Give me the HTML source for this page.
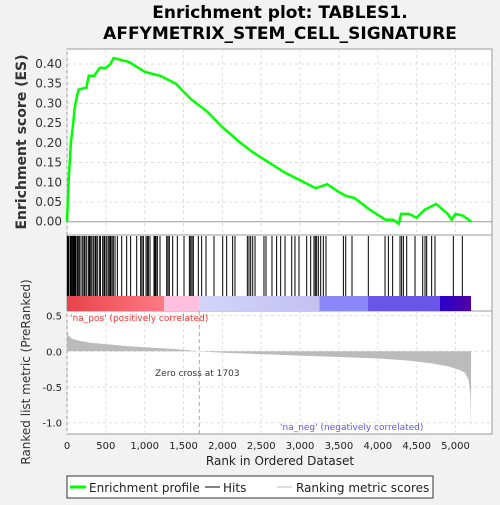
<!DOCTYPE html>
<html><head><meta charset="utf-8"><style>
body{margin:0;background:#f2f2f2;font-family:"Liberation Sans","DejaVu Sans",sans-serif}
svg text{font-family:"DejaVu Sans","Liberation Sans",sans-serif}
</style></head><body>
<svg id="c" width="500" height="500" xmlns="http://www.w3.org/2000/svg">
<text x="280" y="18" text-anchor="middle" font-size="17" font-weight="bold">Enrichment plot: TABLES1.</text>
<text x="280" y="39" text-anchor="middle" font-size="17" font-weight="bold">AFFYMETRIX_STEM_CELL_SIGNATURE</text>
<rect x="67" y="49" width="425" height="186" fill="#fff" stroke="#999"/>
<rect x="67" y="235" width="425" height="76" fill="#fff" stroke="#999"/>
<rect x="67" y="311" width="425" height="123" fill="#fff" stroke="#999"/>
<g id="grid"></g><g id="bar"></g><g id="hits"></g><g id="metric"></g><g id="es"></g><g id="axes"></g>
<text transform="translate(26,142) rotate(-90)" text-anchor="middle" font-size="14" font-weight="bold" fill="#333">Enrichment score (ES)</text>
<text transform="translate(30,372) rotate(-90)" text-anchor="middle" font-size="12" fill="#333">Ranked list metric (PreRanked)</text>
<text x="280" y="465" text-anchor="middle" font-size="12" fill="#222">Rank in Ordered Dataset</text>
<text x="70" y="321" font-size="9" fill="#f33">'na_pos' (positively correlated)</text>
<text x="280" y="430" font-size="9" fill="#55f">'na_neg' (negatively correlated)</text>
<text x="155" y="376" font-size="9" fill="#333">Zero cross at 1703</text>
<rect x="67" y="476" width="366" height="22" fill="#fff" stroke="#333"/>
<line x1="70" y1="487" x2="86" y2="487" stroke="#0f0" stroke-width="3"/>
<text x="89" y="492" font-size="12" fill="#222">Enrichment profile</text>
<line x1="205" y1="487" x2="220" y2="487" stroke="#000"/>
<text x="223" y="492" font-size="12" fill="#222">Hits</text>
<line x1="277" y1="487" x2="292" y2="487" stroke="#bbb"/>
<text x="296" y="492" font-size="12" fill="#222">Ranking metric scores</text>
</svg>
<script>
const esRanks=[0,20,50,80,100,130,150,250,280,350,420,500,560,600,700,800,1000,1200,1400,1600,1800,2000,2200,2400,2600,2800,3000,3200,3350,3500,3600,3700,3900,4100,4200,4270,4300,4400,4500,4600,4700,4750,4900,4950,5000,5100,5200];
const esValues=[0,0.1,0.2,0.25,0.29,0.32,0.335,0.34,0.37,0.37,0.39,0.39,0.4,0.415,0.41,0.405,0.38,0.37,0.35,0.31,0.28,0.24,0.205,0.175,0.15,0.125,0.105,0.085,0.095,0.075,0.065,0.06,0.03,0.005,0.005,-0.005,0.02,0.02,0.01,0.03,0.04,0.045,0.02,0.005,0.02,0.015,0];
const hitRanks=[5,13,20,39,50,60,70,82,90,103,115,133,145,159,180,202,220,232,253,275,290,305,320,339,360,373,390,416,430,459,476,489,511,530,545,560,562,579,580,596,618,648,704,768,819,897,948,965,983,1017,1034,1047,1068,1120,1133,1146,1163,1197,1283,1300,1317,1360,1420,1506,1575,1592,1609,1626,1690,1733,1789,1892,2004,2055,2132,2162,2321,2342,2364,2390,2420,2535,2561,2638,2698,2750,2806,2892,2934,2986,3085,3136,3179,3196,3213,3235,3265,3299,3333,3557,3587,3668,3878,4093,4136,4191,4286,4307,4329,4372,4479,4578,4608,4629,4693,4736,4972,5088];
const metricRanks=[0,20,60,150,300,500,800,1100,1400,1703,2000,2500,3000,3500,4000,4400,4700,4900,5050,5120,5170,5190,5200];
const metricValues=[0.3,0.22,0.18,0.15,0.12,0.1,0.07,0.05,0.03,0,-0.02,-0.04,-0.06,-0.08,-0.1,-0.13,-0.17,-0.21,-0.26,-0.3,-0.4,-0.6,-1.08];
const esTicks=[0,0.05,0.1,0.15,0.2,0.25,0.3,0.35,0.4];
const metricTicks=[0.5,0,-0.5,-1.0];
const metricTickLabels=["0.5","0.0","-0.5","-1.0"];
const xTicks=[0,500,1000,1500,2000,2500,3000,3500,4000,4500,5000];
const X=r=>67+r*0.0777, YE=v=>221.7-v*394.3, YM=v=>351.3-v*71.4;
const NS="http://www.w3.org/2000/svg";
function mk(p,t,a){const e=document.createElementNS(NS,t);for(const k in a)e.setAttribute(k,a[k]);document.getElementById(p).appendChild(e);return e;}
xTicks.forEach(t=>{
 let g=mk('grid','line',{x1:X(t),x2:X(t),y1:49,y2:235,stroke:'#ddd','stroke-dasharray':'3,3'});
 
 
 let g2=mk('grid','line',{x1:X(t),x2:X(t),y1:311,y2:434,stroke:'#ddd','stroke-dasharray':'3,3'});
 
 
 let l=mk('axes','text',{x:X(t),y:449,'text-anchor':'middle','font-size':'10',fill:'#222'});
 l.textContent=t.toLocaleString('en-US');
 
 
});
esTicks.forEach(t=>{
 let g=mk('grid','line',{x1:67,x2:492,y1:YE(t),y2:YE(t),stroke:t===0?'#999':'#ddd','stroke-dasharray':t===0?'':'3,3'});
 
 
 let l=mk('axes','text',{x:62,y:YE(t)+4,'text-anchor':'end','font-size':'12',fill:'#333'});
 l.textContent=t.toFixed(2);
 
 
});
metricTicks.forEach((t,i)=>{
 let g=mk('grid','line',{x1:67,x2:492,y1:YM(t),y2:YM(t),stroke:'#ddd','stroke-dasharray':'3,3'});
 
 
 let l=mk('axes','text',{x:62,y:YM(t)+4,'text-anchor':'end','font-size':'10',fill:'#222'});
 l.textContent=metricTickLabels[i];
 
 
});
let zc=mk('grid','line',{x1:X(1703),x2:X(1703),y1:311,y2:434,stroke:'#aaa','stroke-dasharray':'4,3'});


// color bar
const segs=[[0,1250,'#e8434a','#ff7a85'],[1250,1700,'#ffc0e0','#ffc0e0'],[1700,3250,'#d4d4fa','#c4c0f0'],[3250,3870,'#8888f8','#8888f8'],[3870,4800,'#6a55e8','#6a55e8'],[4800,5200,'#2a00cc','#5000a0']];
const defs=mk('bar','defs',{});
segs.forEach((s,i)=>{
 const lg=document.createElementNS(NS,'linearGradient');lg.setAttribute('id','g'+i);
 [[0,s[2]],[1,s[3]]].forEach(([o,c])=>{const st=document.createElementNS(NS,'stop');st.setAttribute('offset',o);st.setAttribute('stop-color',c);lg.appendChild(st);});
 defs.appendChild(lg);
 let r=mk('bar','rect',{x:X(s[0]),y:296,width:X(s[1])-X(s[0]),height:15,fill:'url(#g'+i+')'});
 
 
});
hitRanks.forEach(r=>{
 let l=mk('hits','line',{x1:X(r),x2:X(r),y1:236,y2:296,stroke:'#000','stroke-width':1});
 
 
});
let d='M'+X(0)+','+YM(0);
metricRanks.forEach((r,i)=>d+=' L'+X(r)+','+YM(metricValues[i]));
d+=' L'+X(5200)+','+YM(0)+'Z';
let ma=mk('metric','path',{d:d,fill:'#bbb'});


let pts=esRanks.map((r,i)=>X(r)+','+YE(esValues[i])).join(' ');
let es=mk('es','polyline',{points:pts,fill:'none',stroke:'#0f0','stroke-width':2.5});


</script>
</body></html>
